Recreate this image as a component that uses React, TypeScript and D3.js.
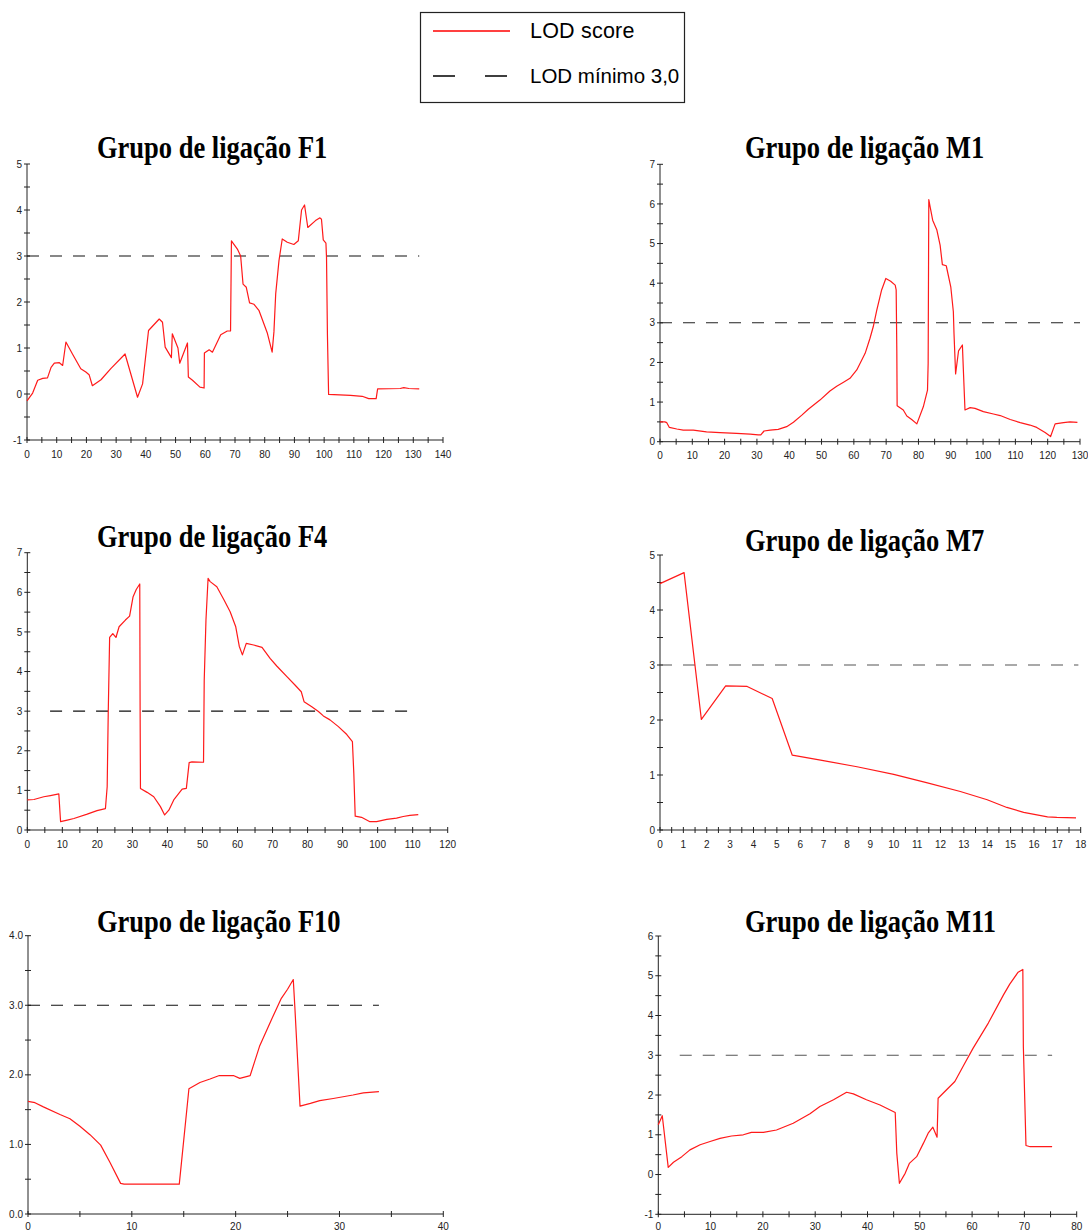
import React from "react";
import * as d3 from "d3";

// ---------- DATA (position cM, LOD) ----------
const f1Pos = [0, 1.9, 3.6, 5.3, 6.9, 8.1, 9.2, 10.9, 12, 13.1, 15.3, 18.1, 19.8, 20.9, 22, 24.9, 28.2, 33, 37.2, 38.9, 40.9, 44.5, 45.6, 46.5, 48.6, 48.9, 50.8, 51.4, 54, 54.3, 55.7, 58.2, 59.6, 59.7, 61.3, 62.4, 65.2, 67.4, 68.5, 68.8, 70.8, 71.9, 72.7, 73.8, 74.9, 76.4, 78.1, 80.9, 82.5, 83.1, 83.7, 84.8, 85.9, 87.6, 89.8, 91.3, 92.4, 93.4, 94.5, 97.1, 98.6, 99.1, 99.7, 100.6, 100.8, 101.1, 101.5, 108.9, 112.8, 115, 117.5, 118, 125.6, 126.8, 128.5, 132];
const f1Lod = [-0.15, 0.02, 0.3, 0.34, 0.35, 0.58, 0.67, 0.68, 0.62, 1.13, 0.87, 0.55, 0.48, 0.42, 0.18, 0.31, 0.55, 0.87, -0.07, 0.22, 1.38, 1.63, 1.56, 1.02, 0.79, 1.31, 1.0, 0.67, 1.11, 0.37, 0.3, 0.15, 0.13, 0.89, 0.96, 0.91, 1.29, 1.37, 1.37, 3.33, 3.15, 3.0, 2.39, 2.32, 1.98, 1.95, 1.81, 1.32, 0.91, 1.35, 2.18, 2.9, 3.37, 3.3, 3.25, 3.33, 4.0, 4.11, 3.62, 3.77, 3.83, 3.8, 3.35, 3.28, 2.97, 1.31, -0.01, -0.03, -0.05, -0.1, -0.1, 0.11, 0.12, 0.14, 0.12, 0.11];

const m1Pos = [0, 1.5, 2.1, 2.9, 5.2, 7.2, 10.3, 14.4, 18.6, 23.7, 27.9, 30.4, 31.2, 32.2, 34.1, 36.6, 39.2, 41.3, 43.9, 45.9, 49.5, 52.6, 54.7, 56.8, 58.8, 60.9, 63.5, 65, 66, 67.1, 68.6, 69.9, 71.4, 72.8, 73.1, 73.3, 73.4, 75.3, 76.4, 77.9, 79.5, 81.5, 82.8, 83, 83.2, 83.6, 84.4, 85.7, 86.7, 87.4, 88.6, 90, 90.8, 91, 91.5, 92.4, 93.6, 93.9, 94.4, 96, 97.5, 100.1, 103.2, 105.3, 108.4, 111.5, 114.5, 116.6, 119.2, 120.9, 122.3, 124.9, 126.9, 129.2];
const m1Lod = [0.5, 0.5, 0.48, 0.36, 0.32, 0.29, 0.29, 0.25, 0.23, 0.21, 0.19, 0.17, 0.17, 0.27, 0.29, 0.31, 0.38, 0.49, 0.67, 0.82, 1.05, 1.28, 1.4, 1.5, 1.6, 1.81, 2.23, 2.61, 2.9, 3.32, 3.83, 4.12, 4.05, 3.95, 3.83, 2.31, 0.91, 0.8, 0.65, 0.56, 0.45, 0.88, 1.3, 1.98, 6.11, 5.93, 5.59, 5.34, 4.96, 4.47, 4.44, 3.91, 3.28, 2.73, 1.71, 2.29, 2.44, 1.81, 0.8, 0.86, 0.84, 0.76, 0.7, 0.66, 0.56, 0.48, 0.42, 0.36, 0.23, 0.13, 0.45, 0.48, 0.5, 0.49];

const f4Pos = [0, 1.9, 4.7, 6.6, 9, 9.5, 11.4, 13.3, 17.1, 19.9, 22.3, 22.8, 23.1, 23.5, 24.4, 25.3, 26.2, 28, 29.2, 30.2, 31.1, 32.1, 32.2, 32.3, 34.2, 36.1, 38, 39.2, 40.4, 41.8, 44.2, 45.4, 46.2, 47, 50.3, 50.5, 51, 51.6, 52.2, 54.1, 56.2, 57.9, 59.5, 60.5, 61.4, 62.5, 64.6, 67, 69.3, 71.2, 74.1, 76.4, 78.2, 79, 81.2, 83.1, 84.5, 86.4, 88.8, 91.2, 92.8, 93.2, 93.6, 95.4, 97.8, 99.7, 102.6, 105.4, 107.3, 109.2, 111.6];
const f4Lod = [0.76, 0.77, 0.84, 0.87, 0.91, 0.21, 0.25, 0.29, 0.4, 0.49, 0.54, 1.09, 2.94, 4.86, 4.96, 4.86, 5.13, 5.3, 5.4, 5.89, 6.07, 6.21, 3.11, 1.05, 0.95, 0.84, 0.59, 0.38, 0.5, 0.76, 1.03, 1.05, 1.7, 1.72, 1.71, 3.78, 5.3, 6.35, 6.27, 6.14, 5.8, 5.51, 5.13, 4.64, 4.42, 4.71, 4.67, 4.61, 4.33, 4.14, 3.87, 3.66, 3.49, 3.24, 3.11, 2.99, 2.88, 2.78, 2.61, 2.41, 2.23, 1.43, 0.35, 0.32, 0.21, 0.21, 0.27, 0.3, 0.34, 0.37, 0.39];

const m7Pos = [0, 1.03, 1.77, 2.81, 3.73, 4.8, 5.66, 6.87, 8.43, 10, 11.4, 12.85, 14, 14.84, 15.56, 16.58, 16.98, 17.8];
const m7Lod = [4.48, 4.68, 2.01, 2.62, 2.61, 2.39, 1.36, 1.27, 1.15, 1.01, 0.86, 0.7, 0.55, 0.41, 0.32, 0.24, 0.23, 0.22];

const f10Pos = [0, 0.67, 1.48, 3.08, 4.04, 5.0, 5.97, 7.0, 7.9, 8.92, 9.25, 14.57, 15.5, 16.56, 17.53, 18.43, 19.78, 20.4, 21.4, 22.3, 23.5, 24.4, 25, 25.55, 25.7, 26.2, 27.2, 28.1, 29.4, 31.3, 32.3, 33.8];
const f10Lod = [1.62, 1.6, 1.54, 1.43, 1.37, 1.26, 1.14, 0.99, 0.74, 0.44, 0.43, 0.43, 1.8, 1.89, 1.94, 1.99, 1.99, 1.95, 1.99, 2.41, 2.81, 3.1, 3.23, 3.37, 2.98, 1.55, 1.59, 1.63, 1.66, 1.71, 1.74, 1.76];

const m11Pos = [0, 0.76, 1.9, 2.9, 4.5, 6.05, 8, 9.9, 11.8, 14, 16.25, 17.8, 20.1, 22.6, 25.8, 29, 30.9, 33.5, 36, 37.3, 39.8, 42.4, 45.3, 45.6, 46.1, 47.2, 48, 49.4, 50.7, 51.6, 52.5, 53.3, 53.5, 54.5, 56.7, 58.6, 60.2, 63.1, 66, 67.2, 68.8, 69.7, 69.8, 70.3, 71.1, 75.3];
const m11Lod = [1.25, 1.48, 0.18, 0.31, 0.45, 0.62, 0.75, 0.83, 0.91, 0.97, 1.0, 1.06, 1.06, 1.12, 1.29, 1.53, 1.71, 1.88, 2.07, 2.03, 1.88, 1.75, 1.56, 0.54, -0.22, 0.03, 0.28, 0.45, 0.79, 1.04, 1.19, 0.94, 1.92, 2.05, 2.34, 2.8, 3.18, 3.81, 4.52, 4.79, 5.09, 5.16, 3.22, 0.73, 0.7, 0.7];

const titles = ["Grupo de ligação F1", "Grupo de ligação M1", "Grupo de ligação F4", "Grupo de ligação M7", "Grupo de ligação F10", "Grupo de ligação M11"];
const xDomains = [[0, 140], [0, 130], [0, 120], [0, 18], [0, 40], [0, 80]];
const yDomains = [[-1, 5], [0, 7], [0, 7], [0, 5], [0, 4], [-1, 6]];
const xLabelSteps = [10, 10, 10, 1, 10, 10];
const xTickSteps = [5, 5, 5, 0.5, 5, 5];
const yLabelDecimals = [0, 0, 0, 0, 1, 0];
const dashRanges = [[0, 132], [0, 130], [6.5, 108.7], [0, 17.9], [0, 33.8], [4.1, 75.3]];
const threshold = 3.0;
const legendLabels = ["LOD score", "LOD mínimo 3,0"];

const series = [
  [f1Pos, f1Lod], [m1Pos, m1Lod], [f4Pos, f4Lod], [m7Pos, m7Lod], [f10Pos, f10Lod], [m11Pos, m11Lod],
];

// ---------- LAYOUT ----------
const layouts = [
  { x0: 27, x1: 443, yTop: 164, yBot: 440, tx: 97, ty: 158, dashColor: "#111", lblOff: 17.5 },
  { x0: 660, x1: 1080, yTop: 164.3, yBot: 441.7, tx: 745, ty: 158, dashColor: "#222", lblOff: 17.5 },
  { x0: 27.3, x1: 447.7, yTop: 552.7, yBot: 830, tx: 97, ty: 547, dashColor: "#111", lblOff: 17.5 },
  { x0: 660, x1: 1080.7, yTop: 555, yBot: 830, tx: 745, ty: 551, dashColor: "#555", lblOff: 17.5 },
  { x0: 28, x1: 443.3, yTop: 935.7, yBot: 1214, tx: 97, ty: 932, dashColor: "#111", lblOff: 15.5 },
  { x0: 658.3, x1: 1076.7, yTop: 936, yBot: 1214.3, tx: 745, ty: 932, dashColor: "#555", lblOff: 15.2 },
];

function range(a: number, b: number, step: number) {
  const out: number[] = [];
  const n = Math.round((b - a) / step);
  for (let i = 0; i <= n; i++) out.push(+(a + i * step).toFixed(6));
  return out;
}

function Panel({ i }: { i: number }) {
  const L = layouts[i];
  const [pos, lod] = series[i];
  const x = d3.scaleLinear().domain(xDomains[i]).range([L.x0, L.x1]);
  const y = d3.scaleLinear().domain(yDomains[i]).range([L.yBot, L.yTop]);
  const pts: [number, number][] = pos.map((p, k) => [p, lod[k]]);
  const line = d3.line<[number, number]>().x((d) => x(d[0])).y((d) => y(d[1]));
  const xTicks = range(xDomains[i][0], xDomains[i][1], xTickSteps[i]);
  const yTicks = range(yDomains[i][0], yDomains[i][1], 0.5);
  const axisColor = "#222";
  const isLabelX = (v: number) => Math.abs(v / xLabelSteps[i] - Math.round(v / xLabelSteps[i])) < 1e-6;
  const isLabelY = (v: number) => Math.abs(v - Math.round(v)) < 1e-6;
  return (
    <g>
      <text
        x={L.tx}
        y={L.ty}
        fontFamily="'Liberation Serif', 'Times New Roman', serif"
        fontWeight="bold"
        fontSize={26.5}
        fill="#000"
        transform={`translate(0 ${L.ty}) scale(1 1.16) translate(0 ${-L.ty})`}
      >
        {titles[i]}
      </text>
      {/* axes */}
      <line x1={L.x0} x2={L.x1} y1={L.yBot} y2={L.yBot} stroke={axisColor} strokeWidth={1} />
      <line x1={L.x0} x2={L.x0} y1={L.yBot} y2={L.yTop} stroke={axisColor} strokeWidth={1} />
      {xTicks.map((v) => (
        <g key={"x" + v}>
          <line x1={x(v)} x2={x(v)} y1={L.yBot - 3} y2={L.yBot + 3} stroke={axisColor} strokeWidth={1} />
          {isLabelX(v) && (
            <text x={x(v)} y={L.yBot + L.lblOff} textAnchor="middle" fontFamily="'Liberation Sans', Arial, sans-serif" fontSize={10} fill="#222">
              {String(Math.round(v))}
            </text>
          )}
        </g>
      ))}
      {yTicks.map((v) => (
        <g key={"y" + v}>
          <line x1={L.x0 - 3} x2={L.x0 + 3} y1={y(v)} y2={y(v)} stroke={axisColor} strokeWidth={1} />
          {isLabelY(v) && (
            <text x={L.x0 - 5} y={y(v) + 3.6} textAnchor="end" fontFamily="'Liberation Sans', Arial, sans-serif" fontSize={10} fill="#222">
              {v.toFixed(yLabelDecimals[i])}
            </text>
          )}
        </g>
      ))}
      {/* threshold */}
      <line
        x1={x(dashRanges[i][0])}
        x2={x(dashRanges[i][1])}
        y1={y(threshold)}
        y2={y(threshold)}
        stroke={L.dashColor}
        strokeWidth={1.1}
        strokeDasharray="12,11"
      />
      <path d={line(pts) || ""} fill="none" stroke="#ff1a1a" strokeWidth={1.2} strokeLinejoin="round" />
    </g>
  );
}

export default function App() {
  return (
    <div style={{ position: "absolute", left: 0, top: 0 }}>
      <svg width={1088} height={1231} style={{ display: "block", background: "#fff" }}>
        <rect x={0} y={0} width={1088} height={1231} fill="#fff" />
        {/* legend */}
        <rect x={420.5} y={12.5} width={264} height={90} fill="#fff" stroke="#222" strokeWidth={1.2} />
        <line x1={433} x2={510} y1={31} y2={31} stroke="#ff0000" strokeWidth={1.3} />
        <line x1={433} x2={508} y1={76} y2={76} stroke="#000" strokeWidth={1.3} strokeDasharray="22,30" />
        <text x={530} y={38} fontFamily="'Liberation Sans', Arial, sans-serif" fontSize={21.5} letterSpacing={0.2} fill="#000">
          {legendLabels[0]}
        </text>
        <text x={530} y={83} fontFamily="'Liberation Sans', Arial, sans-serif" fontSize={20.5} fill="#000">
          {legendLabels[1]}
        </text>
        {titles.map((_, i) => (
          <Panel key={i} i={i} />
        ))}
      </svg>
    </div>
  );
}
